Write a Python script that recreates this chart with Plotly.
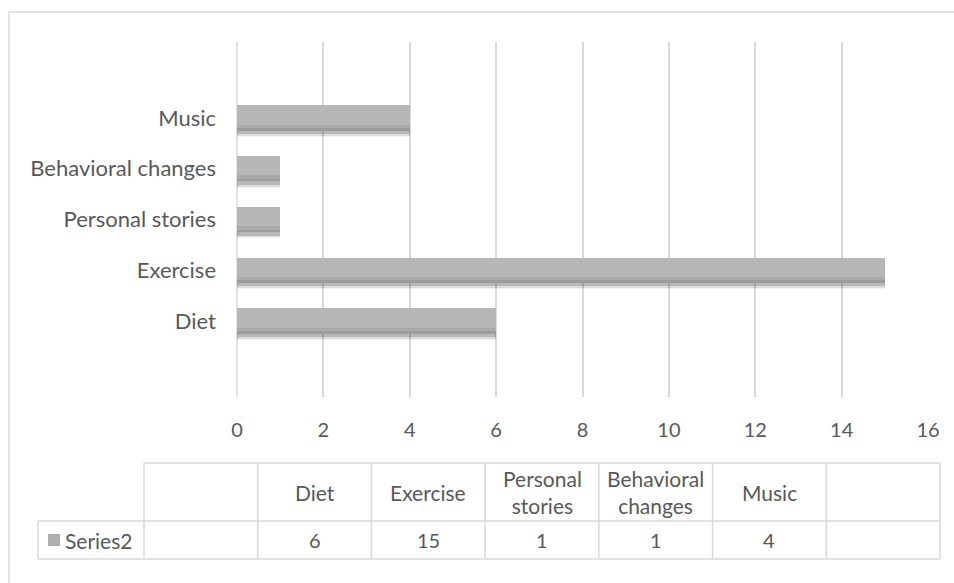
import plotly.graph_objects as go

# Survey topics and counts
categories = ["Diet", "Exercise", "Personal stories", "Behavioral changes", "Music"]
values = [6, 15, 1, 1, 4]
series_name = "Series2"
x_ticks = [0, 2, 4, 6, 8, 10, 12, 14, 16]

W, H = 954, 583
FONT = "Lato, 'Open Sans', sans-serif"
TEXT = "#595959"
LINE = "#d9d9d9"


def px(x):
    return x / W


def py(y):
    return 1 - y / H


# slots 0 and 6 stay empty, categories occupy 1..5
slots = list(range(1, len(categories) + 1))
n_slots = len(categories) + 2

fig = go.Figure()

# soft drop shadow under each bar
for width, off, alpha in [(0.62, -0.37, 0.05), (0.58, -0.35, 0.09), (0.55, -0.32, 0.16)]:
    fig.add_trace(go.Bar(
        y=slots, x=values, orientation="h", width=width, offset=off,
        marker=dict(color=f"rgba(0,0,0,{alpha})", line=dict(width=0)),
        hoverinfo="skip", showlegend=False,
    ))

# main bar body
fig.add_trace(go.Bar(
    y=slots, x=values, orientation="h", width=0.5,
    marker=dict(color="#b7b7b7", line=dict(width=0)),
    name=series_name, showlegend=False,
))
# gently darker lower part for a shaded look
fig.add_trace(go.Bar(
    y=slots, x=values, orientation="h", width=0.12, offset=-0.25,
    marker=dict(color="rgba(110,110,110,0.18)", line=dict(width=0)),
    hoverinfo="skip", showlegend=False,
))
fig.add_trace(go.Bar(
    y=slots, x=values, orientation="h", width=0.05, offset=-0.25,
    marker=dict(color="rgba(110,110,110,0.22)", line=dict(width=0)),
    hoverinfo="skip", showlegend=False,
))

plot_l, plot_r, plot_t, plot_b = 237, 928, 42, 397

fig.update_layout(
    width=W, height=H, autosize=False,
    margin=dict(l=0, r=0, t=0, b=0, autoexpand=False),
    paper_bgcolor="white", plot_bgcolor="white",
    barmode="overlay", bargap=0,
    font=dict(family=FONT, color=TEXT, size=20),
    xaxis=dict(
        domain=[px(plot_l), px(plot_r)], range=[0, 16], automargin=False,
        tickvals=x_ticks, ticktext=[str(t) for t in x_ticks],
        showgrid=True, gridcolor=LINE, gridwidth=1.5,
        zeroline=False, showline=False, ticks="",
        ticklabelstandoff=19, tickfont=dict(size=20, color=TEXT),
    ),
    yaxis=dict(
        domain=[py(plot_b), py(plot_t)], range=[-0.5, n_slots - 0.5], automargin=False,
        tickvals=slots, ticktext=categories,
        showgrid=False, zeroline=False, showline=False, ticks="",
        ticklabelstandoff=20, tickfont=dict(size=22, color=TEXT),
    ),
)

fig.add_shape(type="line", xref="paper", yref="paper",
              x0=px(plot_l), x1=px(plot_l), y0=py(plot_b), y1=py(plot_t),
              line=dict(color=LINE, width=1.5), layer="below")

shapes = []
# outer chart frame
shapes.append(dict(type="rect", xref="paper", yref="paper",
                   x0=px(9), x1=px(962), y0=py(592), y1=py(12),
                   line=dict(color=LINE, width=1.5), fillcolor="rgba(0,0,0,0)"))

# data table grid
tbl_l, tbl_r = 144, 940
hdr_t, row_t, row_b = 463, 521, 559
label_l = 38
col_w = (tbl_r - tbl_l) / n_slots
col_x = [tbl_l + k * col_w for k in range(n_slots + 1)]


def seg(x0, y0, x1, y1):
    return dict(type="line", xref="paper", yref="paper",
                x0=px(x0), y0=py(y0), x1=px(x1), y1=py(y1),
                line=dict(color=LINE, width=1.5))


shapes.append(seg(tbl_l, hdr_t, tbl_r, hdr_t))
shapes.append(seg(label_l, row_t, tbl_r, row_t))
shapes.append(seg(label_l, row_b, tbl_r, row_b))
shapes.append(seg(label_l, row_t, label_l, row_b))
for x in col_x:
    shapes.append(seg(x, hdr_t, x, row_b))

# legend key in the series label cell
shapes.append(dict(type="rect", xref="paper", yref="paper",
                   x0=px(48), x1=px(60), y0=py(546), y1=py(534),
                   line=dict(width=0), fillcolor="#b0b0b0"))

for s in shapes:
    fig.add_shape(**s)

annotations = []
header_labels = [""] + categories + [""]
row_values = [""] + [str(v) for v in values] + [""]
for k in range(n_slots):
    cx = (col_x[k] + col_x[k + 1]) / 2
    label = header_labels[k]
    if len(label) > 9:
        label = label.replace(" ", "<br>")
    if label:
        annotations.append(dict(
            x=px(cx), y=py((hdr_t + row_t) / 2), xref="paper", yref="paper",
            text=label, showarrow=False, xanchor="center", yanchor="middle",
            font=dict(size=21, color=TEXT), align="center",
        ))
    if row_values[k]:
        annotations.append(dict(
            x=px(cx), y=py((row_t + row_b) / 2), xref="paper", yref="paper",
            text=row_values[k], showarrow=False, xanchor="center", yanchor="middle",
            font=dict(size=20, color=TEXT),
        ))

annotations.append(dict(
    x=px(63), y=py((row_t + row_b) / 2), xref="paper", yref="paper",
    text=series_name, showarrow=False, xanchor="left", yanchor="middle",
    font=dict(size=21, color=TEXT),
))

fig.update_layout(annotations=annotations)

fig.write_html("out.html")
